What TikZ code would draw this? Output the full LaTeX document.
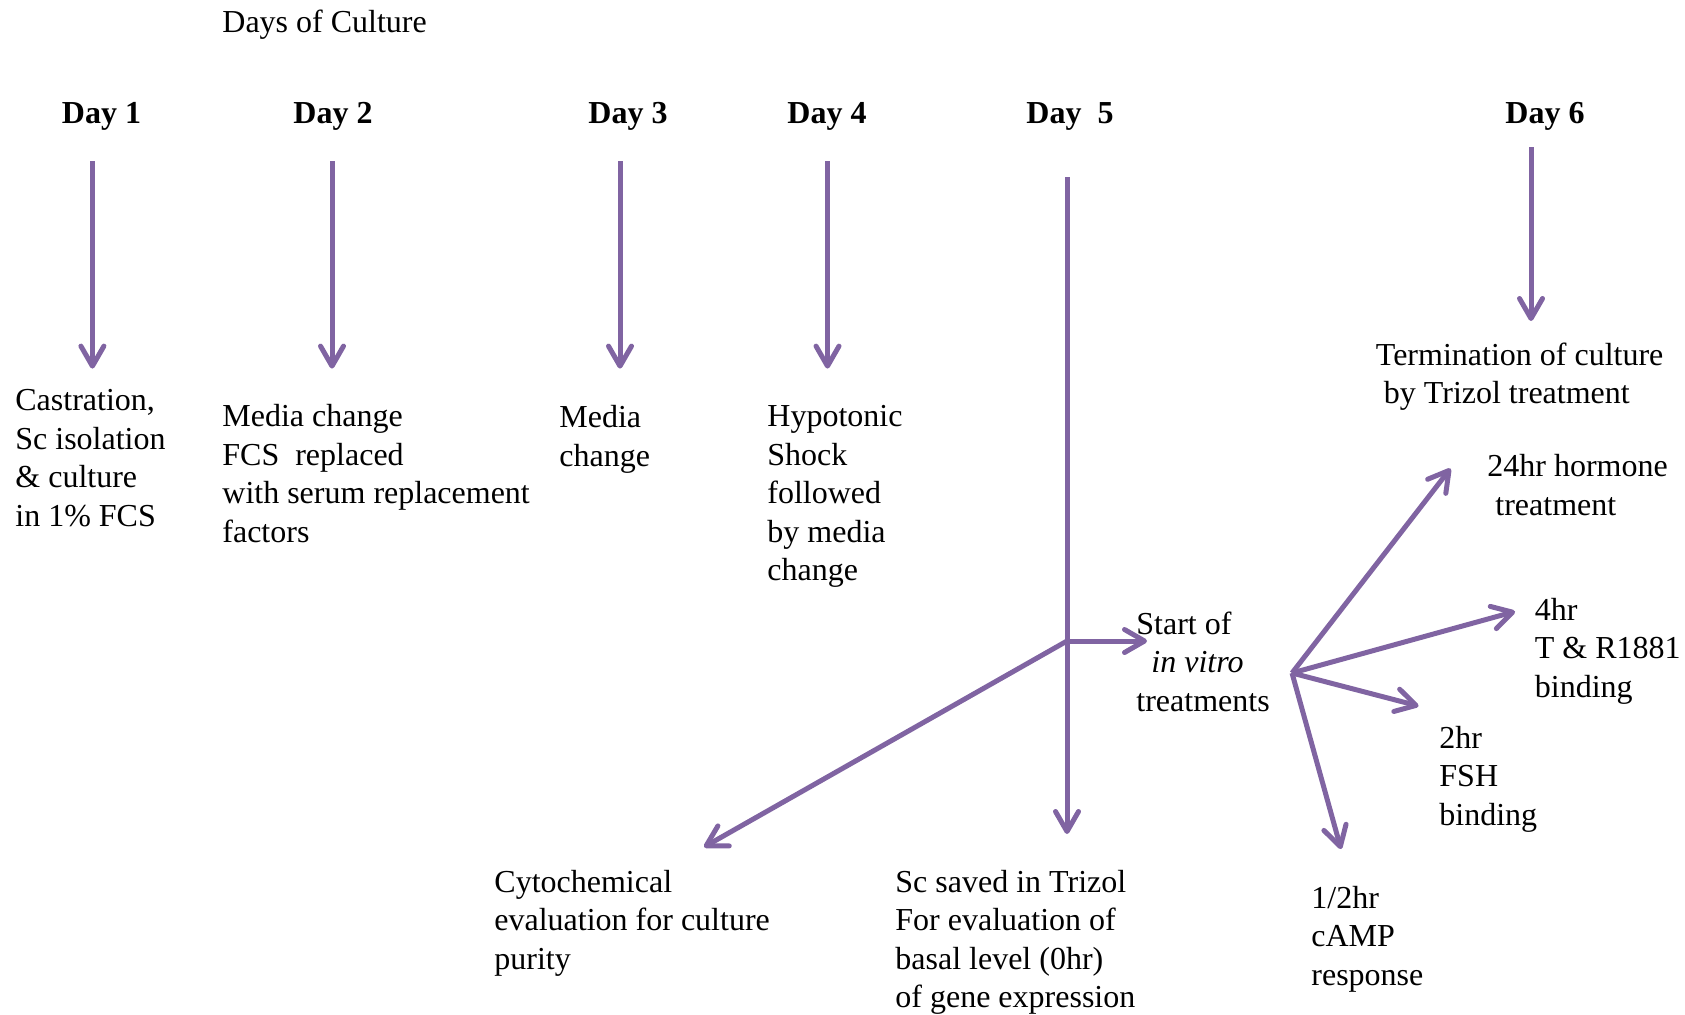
\documentclass[tikz,border=0pt]{standalone}
\usepackage{fontspec}
\setmainfont{Liberation Serif}
\usetikzlibrary{arrows.meta, positioning}
\definecolor{cultpurple}{RGB}{128,100,162}

\begin{document}
\begin{tikzpicture}[x=0.5pt, y=-0.5pt,
  lbl/.style={anchor=base west, inner sep=0pt, align=left, font=\fontsize{16}{19.2}\selectfont},
  daylbl/.style={anchor=base, inner sep=0pt, font=\fontsize{16}{19.2}\selectfont\bfseries},
  arr/.style={draw=cultpurple, line width=2.5pt, -{Straight Barb[length=10pt, width=11.5pt, round]}}
]
\useasboundingbox (0,0) rectangle (1685,1014);
% headings
\node[lbl] (title) at (222,32) {Days of Culture};
\node[daylbl] (d1) at (101.5,123) {Day 1};
\node[daylbl] (d2) at (333,123) {Day 2};
\node[daylbl] (d3) at (628,123) {Day 3};
\node[daylbl] (d4) at (827,123) {Day 4};
\node[daylbl] (d5) at (1070,123) {Day~~5};
\node[daylbl] (d6) at (1545,123) {Day 6};
% what happens each day (placed at the baseline of the last line)
\node[lbl] (castr) at (15,526) {Castration,\\Sc isolation\\\& culture\\in 1\% FCS};
\node[lbl] (media2) at (222,542) {Media change\\FCS~~replaced\\with serum replacement\\factors};
\node[lbl] (media3) at (559,466) {Media\\change};
\node[lbl] (hypo) at (767,580.5) {Hypotonic\\Shock\\followed\\by media\\change};
\node[lbl] (term) at (1375.5,403.5) {Termination of culture\\\hspace{0.25em}by Trizol treatment};
\node[lbl] (start) at (1136,711) {Start of\\\hspace{0.47em}\textit{in vitro}\\treatments};
\node[lbl] (cyto) at (494,969) {Cytochemical\\evaluation for culture\\purity};
\node[lbl] (saved) at (895,1007.5) {Sc saved in Trizol\\For evaluation of\\basal level (0hr)\\of gene expression};
% treatments
\node[lbl] (h24) at (1487,515) {24hr hormone\\\hspace{0.25em}treatment};
\node[lbl] (h4) at (1534.5,697) {4hr\\T \& R1881\\binding};
\node[lbl] (h2) at (1439,825) {2hr\\FSH\\binding};
\node[lbl] (hhalf) at (1311,985) {1/2hr\\cAMP\\response};
% arrow ends
\coordinate (a1s) at (92.4,161);   \coordinate (a1e) at (92.4,368.6);
\coordinate (a2s) at (332,161);    \coordinate (a2e) at (332,368.6);
\coordinate (a3s) at (620,161);    \coordinate (a3e) at (620,368.6);
\coordinate (a4s) at (827.5,161);  \coordinate (a4e) at (827.5,368.6);
\coordinate (a5s) at (1067,177);   \coordinate (a5e) at (1067,834);
\coordinate (a6s) at (1531,147);   \coordinate (a6e) at (1531,321);
\coordinate (junc) at (1067,641);
\coordinate (startp) at (1147,641);
\coordinate (cytop) at (704,847);
\coordinate (fan) at (1292,673);
\coordinate (h24p) at (1450.5,468.5);
\coordinate (h4p) at (1515,611.5);
\coordinate (h2p) at (1418.5,706);
\coordinate (hhalfp) at (1341,849);
% arrows
\draw[arr] (a1s) -- (a1e);
\draw[arr] (a2s) -- (a2e);
\draw[arr] (a3s) -- (a3e);
\draw[arr] (a4s) -- (a4e);
\draw[arr] (a5s) -- (a5e);
\draw[arr] (a6s) -- (a6e);
\draw[arr] (junc) -- (startp);
\draw[arr] (junc) -- (cytop);
\draw[arr] (fan) -- (h24p);
\draw[arr] (fan) -- (h4p);
\draw[arr] (fan) -- (h2p);
\draw[arr] (fan) -- (hhalfp);
\end{tikzpicture}
\end{document}
